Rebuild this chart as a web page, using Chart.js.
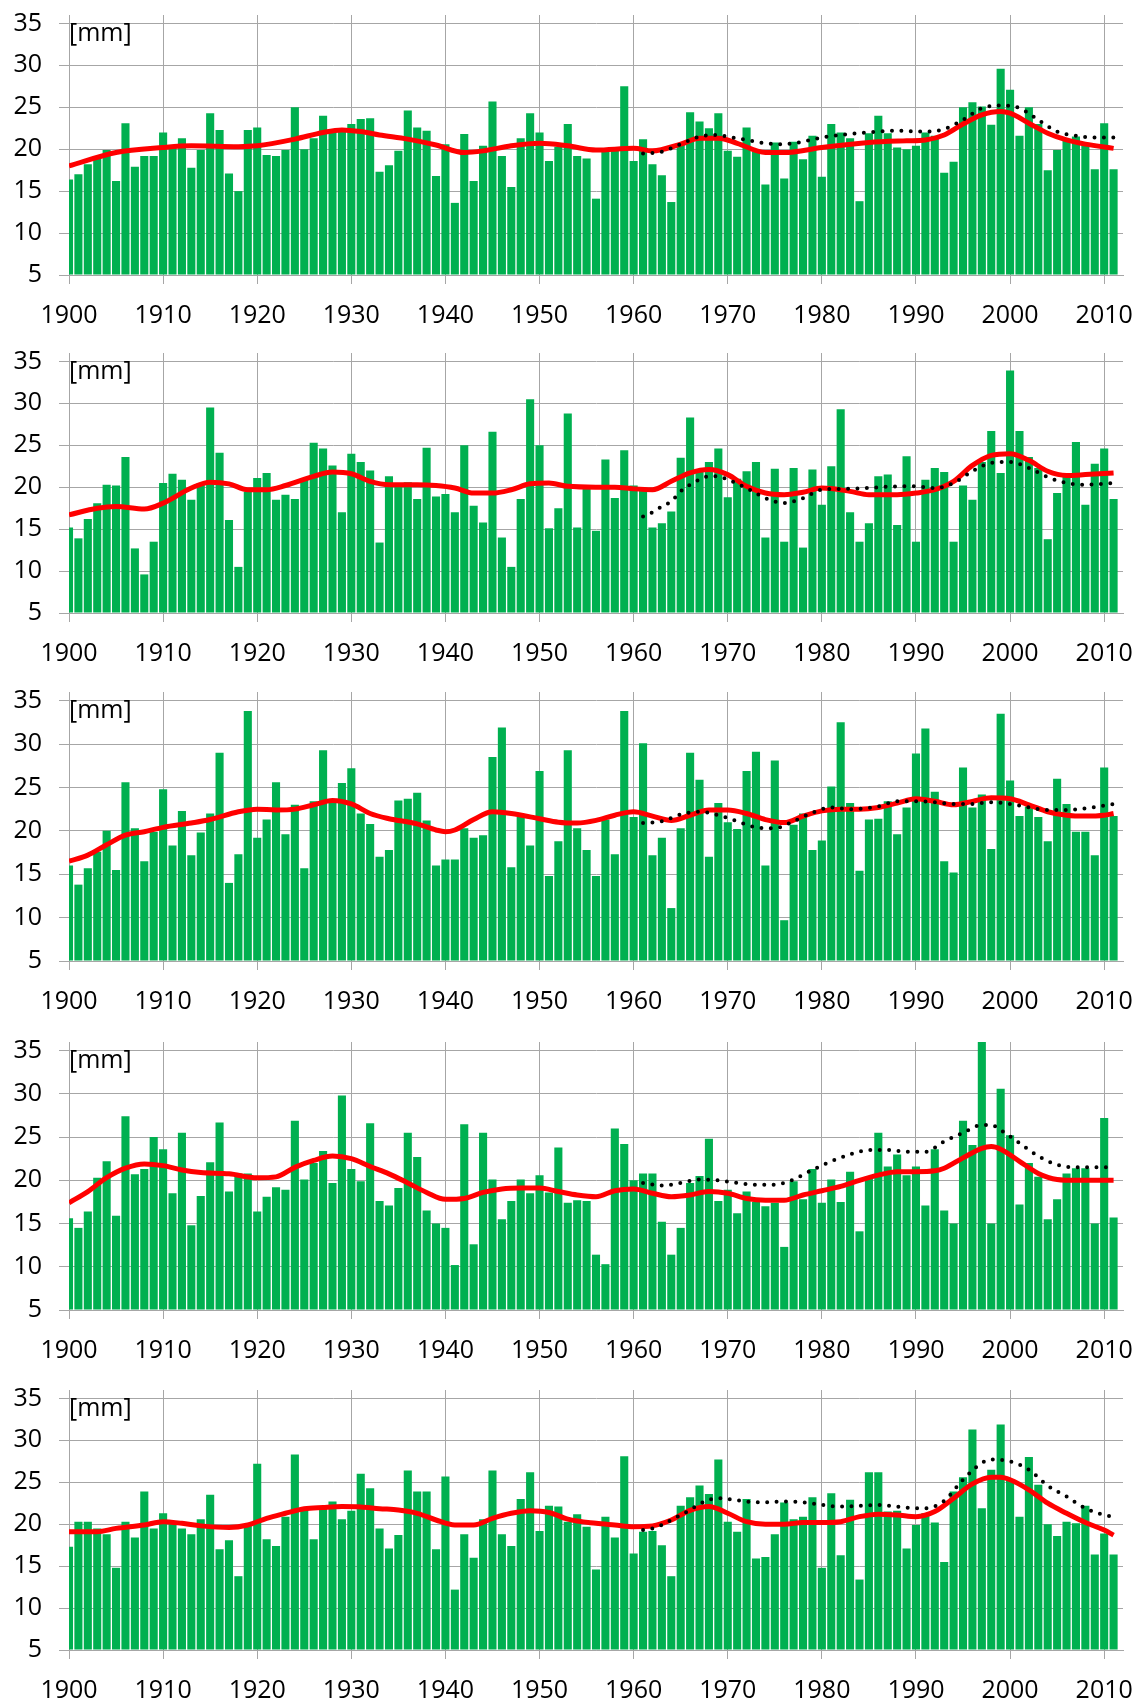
<!DOCTYPE html>
<html>
<head>
<meta charset="utf-8">
<script src="https://cdn.jsdelivr.net/npm/chart.js@4/dist/chart.umd.min.js"></script>
<style>
  body { margin: 0; background: #fff; width: 1141px; height: 1702px; position: relative; overflow: hidden; font-family: "Open Sans", sans-serif; }
  .panel { position: absolute; left: 0; width: 1141px; }
  .panel canvas { position: absolute; left: 0; top: 0; }
  .unit { position: absolute; left: 69px; font-size: 25px; line-height: 30px; color: #000; }
</style>
</head>
<body>
<script>
// jaren 1900..2011, één staaf per jaar
const firstYear = 1900;
const xTicks = [1900, 1910, 1920, 1930, 1940, 1950, 1960, 1970, 1980, 1990, 2000, 2010];
const yTicks = [5, 10, 15, 20, 25, 30, 35];
const unitLabel = '[mm]';

// staafwaarden per paneel [mm]
const rain1 = [
  16.4, 17.0, 18.2, 19.1, 19.9, 16.2, 23.1, 17.9, 19.2, 19.2,
  22.0, 20.4, 21.3, 17.8, 19.9, 24.3, 22.3, 17.1, 15.0, 22.3,
  22.6, 19.3, 19.2, 19.9, 25.0, 20.0, 21.3, 24.0, 22.2, 22.4,
  23.0, 23.6, 23.7, 17.3, 18.1, 19.8, 24.6, 22.6, 22.2, 16.8,
  20.6, 13.6, 21.8, 16.2, 20.4, 25.7, 19.2, 15.5, 21.3, 24.3,
  22.0, 18.6, 20.3, 23.0, 19.2, 18.9, 14.1, 19.9, 20.0, 27.5,
  18.6, 21.2, 18.2, 16.9, 13.7, 20.6, 24.4, 23.3, 22.5, 24.3,
  19.8, 19.1, 22.6, 19.7, 15.8, 20.8, 16.5, 20.9, 18.8, 21.6,
  16.7, 23.0, 22.0, 21.3, 13.8, 21.9, 24.0, 21.9, 20.2, 20.0,
  20.4, 22.0, 21.6, 17.2, 18.5, 25.0, 25.6, 25.1, 22.9, 29.6,
  27.1, 21.6, 25.0, 23.0, 17.5, 19.9, 21.0, 21.5, 20.7, 17.6,
  23.1, 17.6
];
const rain2 = [
  15.2, 13.9, 16.2, 18.1, 20.3, 20.2, 23.6, 12.7, 9.6, 13.5,
  20.5, 21.6, 20.9, 18.5, 20.5, 29.5, 24.1, 16.1, 10.5, 19.5,
  21.1, 21.7, 18.5, 19.1, 18.6, 20.9, 25.3, 24.6, 22.6, 17.0,
  24.0, 23.0, 22.0, 13.4, 21.3, 20.2, 20.6, 18.6, 24.7, 18.9,
  19.2, 17.0, 25.0, 17.8, 15.8, 26.6, 14.0, 10.5, 18.6, 30.5,
  25.0, 15.1, 17.5, 28.8, 15.2, 19.9, 14.8, 23.3, 18.7, 24.4,
  20.2, 19.6, 15.2, 15.7, 17.1, 23.5, 28.3, 21.8, 23.0, 24.6,
  18.8, 21.0, 21.9, 23.0, 14.0, 22.2, 13.5, 22.3, 12.8, 22.1,
  17.9, 22.5, 29.3, 17.0, 13.5, 15.7, 21.3, 21.5, 15.5, 23.7,
  13.5, 20.9, 22.3, 21.8, 13.5, 20.2, 18.5, 23.0, 26.7, 21.7,
  33.9, 26.7, 23.6, 22.3, 13.8, 19.3, 21.4, 25.4, 17.9, 22.8,
  24.6, 18.6
];
const rain3 = [
  16.0, 13.8, 15.7, 17.6, 20.0, 15.5, 25.6, 20.3, 16.5, 19.9,
  24.8, 18.3, 22.3, 17.2, 19.8, 22.0, 29.0, 14.0, 17.3, 33.8,
  19.2, 21.3, 25.6, 19.6, 23.0, 15.7, 23.4, 29.3, 23.2, 25.5,
  27.2, 22.0, 20.8, 17.0, 17.8, 23.5, 23.7, 24.4, 21.2, 16.0,
  16.7, 16.7, 20.3, 19.2, 19.5, 28.5, 31.9, 15.8, 21.6, 18.3,
  26.9, 14.8, 18.8, 29.3, 20.3, 17.8, 14.8, 21.3, 17.3, 33.8,
  21.6, 30.1, 17.2, 19.2, 11.1, 20.3, 29.0, 25.9, 17.0, 23.2,
  21.0, 20.2, 26.9, 29.1, 16.0, 28.1, 9.7, 20.7, 22.0, 17.8,
  18.9, 25.1, 32.5, 23.2, 15.4, 21.3, 21.4, 23.4, 19.6, 22.7,
  28.9, 31.8, 24.5, 16.5, 15.2, 27.3, 22.7, 24.2, 17.9, 33.5,
  25.8, 21.7, 22.8, 21.6, 18.8, 26.0, 23.1, 19.9, 19.9, 17.2,
  27.3, 21.7
];
const rain4 = [
  15.6, 14.5, 16.4, 20.3, 22.2, 15.9, 27.4, 20.7, 21.3, 25.0,
  23.6, 18.5, 25.5, 14.8, 18.2, 22.1, 26.7, 18.7, 20.8, 20.8,
  16.4, 18.1, 19.2, 18.9, 26.9, 20.1, 22.0, 23.4, 19.7, 29.8,
  21.3, 19.9, 26.6, 17.6, 17.1, 19.1, 25.5, 22.7, 16.5, 15.0,
  14.5, 10.2, 26.5, 12.6, 25.5, 20.1, 15.5, 17.6, 20.1, 18.5,
  20.6, 18.6, 23.8, 17.4, 17.7, 17.6, 11.4, 10.3, 26.0, 24.2,
  20.0, 20.8, 20.8, 15.2, 11.4, 14.5, 19.7, 20.5, 24.8, 17.6,
  18.9, 16.2, 18.7, 17.5, 17.0, 17.4, 12.3, 19.9, 17.8, 21.3,
  17.4, 20.1, 17.5, 21.0, 14.1, 20.4, 25.5, 21.6, 23.0, 20.6,
  21.6, 17.1, 23.6, 16.5, 15.0, 26.9, 24.1, 37.0, 15.0, 30.6,
  25.2, 17.2, 22.0, 20.4, 15.5, 17.8, 20.8, 21.4, 21.4, 15.0,
  27.2, 15.7
];
const rain5 = [
  17.3, 20.3, 20.3, 19.5, 18.8, 14.8, 20.3, 18.4, 23.9, 19.5,
  21.3, 20.2, 19.5, 18.8, 20.6, 23.5, 17.0, 18.1, 13.8, 19.8,
  27.2, 18.2, 17.4, 20.9, 28.3, 21.7, 18.2, 21.8, 22.7, 20.6,
  21.6, 26.0, 24.3, 19.5, 17.1, 18.7, 26.4, 23.9, 23.9, 17.0,
  25.7, 12.2, 18.8, 16.0, 20.6, 26.4, 18.8, 17.4, 23.0, 26.2,
  19.2, 22.2, 22.1, 20.3, 21.2, 19.7, 14.6, 20.9, 18.4, 28.1,
  16.5, 19.1, 19.2, 17.5, 13.8, 22.2, 23.2, 24.6, 23.6, 27.7,
  20.3, 19.1, 23.0, 15.9, 16.1, 18.8, 22.6, 20.6, 20.9, 23.2,
  14.8, 23.7, 16.3, 22.9, 13.4, 26.2, 26.2, 21.5, 21.6, 17.1,
  19.9, 21.3, 20.2, 15.5, 23.9, 25.6, 31.3, 21.9, 26.5, 31.9,
  25.3, 20.9, 28.0, 24.7, 20.0, 18.6, 20.3, 20.1, 22.2, 16.4,
  18.9, 16.4
];

// rode gladde lijn: [jaar, waarde]
const trend1 = [[1900,18.0],[1905,19.6],[1910,20.2],[1913,20.4],[1918,20.3],[1920,20.4],[1924,21.2],[1927,22.0],[1929,22.3],[1931,22.1],[1933,21.7],[1936,21.2],[1939,20.5],[1942,19.6],[1944,19.8],[1947,20.4],[1950,20.7],[1953,20.4],[1956,19.9],[1960,20.1],[1962,19.8],[1965,20.6],[1967,21.3],[1969,21.3],[1971,20.7],[1974,19.6],[1976,19.6],[1980,20.2],[1985,20.8],[1989,21.0],[1991,21.1],[1993,21.7],[1995,23.0],[1997,24.1],[1999,24.5],[2000,24.3],[2002,23.1],[2004,21.9],[2006,21.1],[2008,20.6],[2011,20.1]];
const trend2 = [[1900,16.7],[1903,17.5],[1905,17.7],[1908,17.4],[1910,18.1],[1913,19.9],[1915,20.6],[1917,20.4],[1919,19.7],[1921,19.7],[1923,20.2],[1926,21.3],[1928,21.8],[1930,21.6],[1932,20.7],[1934,20.3],[1937,20.3],[1939,20.2],[1941,19.9],[1943,19.3],[1945,19.3],[1947,19.7],[1949,20.4],[1951,20.5],[1953,20.1],[1956,20.0],[1958,20.0],[1960,19.8],[1962,19.7],[1964,20.7],[1966,21.7],[1968,22.1],[1970,21.5],[1972,20.1],[1974,19.3],[1976,19.1],[1978,19.4],[1980,19.9],[1983,19.5],[1985,19.1],[1988,19.1],[1990,19.3],[1992,19.7],[1994,20.7],[1996,22.6],[1998,23.8],[2000,24.0],[2002,23.2],[2004,21.9],[2006,21.4],[2008,21.5],[2011,21.7]];
const trend3 = [[1900,16.5],[1902,17.2],[1904,18.4],[1906,19.5],[1908,19.9],[1910,20.4],[1913,20.9],[1915,21.3],[1918,22.2],[1920,22.5],[1922,22.4],[1924,22.5],[1926,23.0],[1928,23.5],[1930,23.1],[1932,22.0],[1934,21.4],[1937,20.8],[1939,20.1],[1940,19.9],[1941,20.1],[1943,21.3],[1945,22.2],[1947,22.0],[1950,21.4],[1952,21.0],[1954,20.9],[1956,21.2],[1958,21.8],[1960,22.2],[1962,21.7],[1964,21.2],[1966,21.8],[1968,22.4],[1970,22.4],[1972,22.0],[1974,21.3],[1976,20.95],[1978,21.7],[1980,22.3],[1982,22.5],[1984,22.5],[1986,22.7],[1988,23.2],[1990,23.7],[1992,23.4],[1994,23.0],[1996,23.4],[1998,23.8],[2000,23.7],[2002,23.0],[2004,22.2],[2006,21.8],[2008,21.7],[2010,21.8],[2011,22.0]];
const trend4 = [[1900,17.4],[1902,18.7],[1904,20.3],[1906,21.4],[1908,21.9],[1910,21.7],[1912,21.2],[1914,20.9],[1917,20.75],[1920,20.3],[1922,20.4],[1924,21.5],[1926,22.3],[1928,22.8],[1930,22.5],[1932,21.6],[1934,20.75],[1936,19.7],[1938,18.6],[1940,17.8],[1942,17.9],[1944,18.6],[1946,19.0],[1948,19.1],[1950,19.1],[1952,18.7],[1954,18.3],[1956,18.1],[1958,18.8],[1960,19.0],[1962,18.5],[1964,18.1],[1966,18.3],[1968,18.7],[1970,18.5],[1972,17.9],[1974,17.7],[1976,17.7],[1978,18.3],[1980,18.8],[1982,19.3],[1984,20.0],[1986,20.6],[1988,21.0],[1990,21.0],[1992,21.1],[1993,21.4],[1995,22.6],[1997,23.7],[1998,23.9],[1999,23.6],[2001,22.2],[2003,20.8],[2005,20.1],[2007,20.0],[2009,20.0],[2011,20.0]];
const trend5 = [[1900,19.1],[1903,19.1],[1905,19.5],[1908,19.9],[1910,20.3],[1912,20.1],[1914,19.8],[1917,19.6],[1919,19.9],[1921,20.7],[1923,21.3],[1925,21.85],[1927,22.0],[1929,22.1],[1931,22.05],[1933,21.85],[1935,21.7],[1937,21.3],[1939,20.5],[1941,19.9],[1943,19.9],[1945,20.7],[1947,21.3],[1949,21.6],[1951,21.4],[1953,20.6],[1956,20.1],[1958,19.9],[1960,19.7],[1962,19.8],[1964,20.5],[1966,21.65],[1968,22.1],[1970,21.3],[1972,20.3],[1974,20.0],[1976,20.0],[1978,20.2],[1980,20.2],[1982,20.3],[1984,20.9],[1986,21.2],[1988,21.1],[1990,20.9],[1992,21.5],[1994,23.1],[1996,24.8],[1998,25.6],[1999,25.6],[2000,25.3],[2002,24.1],[2004,22.5],[2006,21.3],[2008,20.2],[2010,19.3],[2011,18.7]];

// zwarte stippellijn vanaf 1961: [jaar, waarde]
const trend61_1 = [[1961,19.5],[1963,19.7],[1965,20.6],[1967,21.5],[1969,21.7],[1970,21.5],[1972,21.1],[1974,20.7],[1976,20.6],[1978,20.9],[1980,21.4],[1982,21.7],[1985,22.0],[1988,22.2],[1991,22.1],[1993,22.4],[1995,23.5],[1997,24.9],[1999,25.2],[2001,24.9],[2003,23.5],[2005,22.1],[2007,21.6],[2009,21.4],[2011,21.4]];
const trend61_2 = [[1961,16.5],[1962,17.0],[1963,17.7],[1964,18.3],[1965,19.5],[1966,20.3],[1967,20.9],[1968,21.3],[1969,21.3],[1970,20.9],[1972,19.9],[1974,18.7],[1976,18.1],[1978,18.7],[1980,19.7],[1982,19.8],[1985,19.9],[1988,20.1],[1990,20.1],[1992,19.9],[1994,20.5],[1996,21.9],[1998,22.9],[2000,23.0],[2002,22.3],[2004,21.2],[2006,20.5],[2008,20.3],[2011,20.5]];
const trend61_3 = [[1961,20.9],[1963,21.1],[1965,21.9],[1967,22.2],[1969,21.8],[1971,21.1],[1973,20.4],[1975,20.3],[1977,21.1],[1979,22.1],[1981,22.7],[1983,22.5],[1986,22.8],[1988,23.4],[1990,23.4],[1992,23.3],[1994,23.1],[1996,23.1],[1998,23.3],[2000,23.1],[2002,22.7],[2004,22.4],[2006,22.4],[2008,22.6],[2010,22.9],[2011,23.1]];
const trend61_4 = [[1961,19.7],[1963,19.4],[1965,19.7],[1967,20.1],[1969,20.0],[1971,19.7],[1973,19.5],[1975,19.5],[1977,20.1],[1979,21.2],[1981,22.2],[1983,23.0],[1985,23.5],[1987,23.5],[1989,23.3],[1991,23.3],[1993,24.5],[1995,25.5],[1997,26.4],[1998,26.4],[1999,25.8],[2001,24.3],[2003,22.8],[2005,21.8],[2007,21.5],[2009,21.5],[2011,21.5]];
const trend61_5 = [[1961,19.3],[1962,19.5],[1963,19.9],[1964,20.5],[1965,21.1],[1966,21.7],[1967,22.4],[1968,22.9],[1969,23.1],[1970,23.0],[1972,22.7],[1974,22.6],[1976,22.7],[1978,22.6],[1980,22.3],[1982,22.1],[1984,22.2],[1986,22.3],[1988,22.1],[1990,21.9],[1991,21.9],[1993,22.8],[1995,25.3],[1997,27.3],[1998,27.7],[2000,27.5],[2002,26.5],[2004,24.6],[2006,23.3],[2008,21.9],[2010,21.1],[2011,20.9]];

// pixel-indeling van de vijf panelen (bovenkant canvas, hoogte plotgebied)
const boxes = [
  { top: 1, plot: 260 },
  { top: 339, plot: 260 },
  { top: 678, plot: 269 },
  { top: 1028, plot: 268 },
  { top: 1376, plot: 260 }
];
const padTop = 14, axisH = 52;
const gridColor = '#a6a6a6';

Chart.defaults.font.family = '"Open Sans", sans-serif';
Chart.defaults.font.size = 25;
Chart.defaults.color = '#000';

const panels = [
  [rain1, trend1, trend61_1],
  [rain2, trend2, trend61_2],
  [rain3, trend3, trend61_3],
  [rain4, trend4, trend61_4],
  [rain5, trend5, trend61_5]
];

const toPoints = pairs => pairs.map(([x, y]) => ({ x, y }));

panels.forEach(([rain, trend, trend61], i) => {
  const box = boxes[i];
  const h = padTop + box.plot + axisH;

  const div = document.createElement('div');
  div.className = 'panel';
  div.style.top = box.top + 'px';
  div.style.height = h + 'px';
  const canvas = document.createElement('canvas');
  canvas.width = 1141;
  canvas.height = h;
  div.appendChild(canvas);
  const unit = document.createElement('span');
  unit.className = 'unit';
  unit.textContent = unitLabel;
  unit.style.top = (padTop + 1) + 'px';
  div.appendChild(unit);
  document.body.appendChild(div);

  new Chart(canvas, {
    type: 'bar',
    data: {
      datasets: [
        {
          type: 'line',
          data: toPoints(trend61),
          borderColor: '#000',
          borderWidth: 4,
          borderDash: [0, 9.4],
          borderCapStyle: 'round',
          pointRadius: 0,
          tension: 0.4,
          cubicInterpolationMode: 'monotone',
          fill: false
        },
        {
          type: 'line',
          data: toPoints(trend),
          borderColor: '#ff0000',
          borderWidth: 5,
          pointRadius: 0,
          tension: 0.4,
          cubicInterpolationMode: 'monotone',
          fill: false
        },
        {
          type: 'bar',
          data: rain.map((v, k) => ({ x: firstYear + k, y: v })),
          backgroundColor: '#00b050',
          base: 5,
          barPercentage: 0.86,
          categoryPercentage: 1,
          clip: 0
        }
      ]
    },
    options: {
      responsive: false,
      animation: false,
      devicePixelRatio: 1,
      layout: { padding: { top: padTop, right: 18, left: 0, bottom: 0 } },
      plugins: { legend: { display: false }, tooltip: { enabled: false } },
      scales: {
        x: {
          type: 'linear',
          min: 1900,
          max: 2012,
          offset: false,
          afterBuildTicks: s => { s.ticks = xTicks.map(value => ({ value })); },
          afterFit: s => { s.height = axisH; s.paddingLeft = 0; s.paddingRight = 0; },
          grid: { color: gridColor, lineWidth: 1, tickLength: 9, offset: false },
          border: { color: gridColor },
          ticks: { padding: 17, maxRotation: 0, autoSkip: false, callback: v => String(v) }
        },
        y: {
          min: 5,
          max: 36,
          afterBuildTicks: s => { s.ticks = yTicks.map(value => ({ value })); },
          afterFit: s => { s.width = 69; s.paddingTop = 0; s.paddingBottom = 0; },
          grid: { color: gridColor, lineWidth: 1, tickLength: 10 },
          border: { color: gridColor },
          ticks: { padding: 17, callback: v => String(v) }
        }
      }
    }
  });
});
</script>
</body>
</html>
